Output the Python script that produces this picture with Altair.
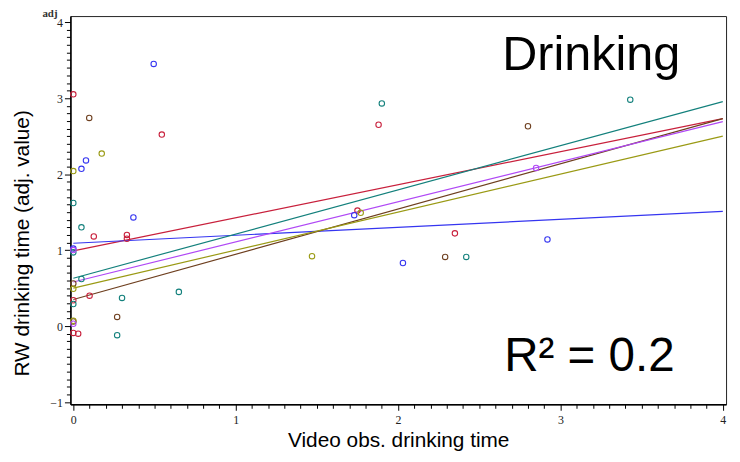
import altair as alt
import pandas as pd

# ---- data ----
groups = ["A", "B", "C", "D", "E", "F"]
colors = ["#c8203c", "#3535f0", "#13807c", "#6e3f1f", "#9a9a14", "#b048f5"]

red_x = [0.0, 0.545, 1.88, 0.126, 0.33, 0.33, 0.0, 0.10, 0.0, 0.03, 1.75, 2.35]
red_y = [3.05, 2.52, 2.65, 1.18, 1.20, 1.15, 0.34, 0.40, -0.09, -0.10, 1.52, 1.22]
blue_x = [0.495, 0.078, 0.05, 0.37, 0.0, 1.73, 2.03, 2.92]
blue_y = [3.45, 2.18, 2.07, 1.43, 1.02, 1.46, 0.83, 1.14]
teal_x = [1.90, 3.43, 0.0, 0.05, 0.0, 0.05, 0.0, 0.30, 0.65, 0.27, 2.42]
teal_y = [2.93, 2.98, 1.62, 1.30, 0.97, 0.62, 0.29, 0.37, 0.45, -0.12, 0.91]
brown_x = [0.098, 2.80, 0.0, 0.27, 0.0, 2.29]
brown_y = [2.74, 2.63, 0.56, 0.12, 0.06, 0.91]
olive_x = [0.175, 0.0, 0.0, 0.0, 1.47, 1.77]
olive_y = [2.27, 2.04, 0.49, 0.07, 0.92, 1.49]
purple_x = [2.85, 0.0, 0.0]
purple_y = [2.08, 1.00, 0.03]

# fitted lines: value at x = 0 and at x = 4
line_x_start = 0.0
line_x_end = 4.0
line_y_start = [0.99, 1.09, 0.63, 0.35, 0.50, 0.58]
line_y_end = [2.73, 1.51, 2.955, 2.73, 2.50, 2.69]

x_ticks = [round(i * 0.1, 1) for i in range(41)]
y_ticks = [round(-1 + i * 0.1, 1) for i in range(51)]

# ---- tables ----
series_x = [red_x, blue_x, teal_x, brown_x, olive_x, purple_x]
series_y = [red_y, blue_y, teal_y, brown_y, olive_y, purple_y]
rows = []
for g, xs, ys in zip(groups, series_x, series_y):
    for xv, yv in zip(xs, ys):
        rows.append({"g": g, "x": xv, "y": yv})
pts = pd.DataFrame(rows)

lrows = []
for g, y0, y1 in zip(groups, line_y_start, line_y_end):
    lrows.append({"g": g, "x": line_x_start, "y": y0})
    lrows.append({"g": g, "x": line_x_end, "y": y1})
lines = pd.DataFrame(lrows)

is_major = "abs(datum.value - round(datum.value)) < 1e-6"

xscale = alt.Scale(domain=[-0.018, 4.02], nice=False, zero=False)
yscale = alt.Scale(domain=[-1.03, 4.08], nice=False, zero=False)
color = alt.Color("g:N", scale=alt.Scale(domain=groups, range=colors), legend=None)

xaxis = alt.Axis(
    values=x_ticks, labelExpr=f"{is_major} ? format(datum.value, 'd') : ''",
    labelOverlap=False, labelFlush=False, labelBound=False,
    tickSize={"condition": {"test": is_major, "value": 6}, "value": 4},
    title="Video obs. drinking time", grid=False,
    labelFont="Liberation Serif", labelFontSize=12, labelColor="#222", labelPadding=4,
    titleFont="Liberation Sans", titleFontSize=21, titleFontWeight="normal", titleColor="black",
    titlePadding=5,
    domainColor="black", domainWidth=1.5, tickColor="black", tickWidth=1,
)
yaxis = alt.Axis(
    values=y_ticks, labelExpr=f"{is_major} ? format(datum.value, 'd') : ''",
    labelOverlap=False, labelFlush=False, labelBound=False,
    tickSize={"condition": {"test": is_major, "value": 6}, "value": 4},
    title="RW drinking time (adj. value)", grid=False,
    labelFont="Liberation Serif", labelFontSize=12, labelColor="#222", labelPadding=2,
    titleFont="Liberation Sans", titleFontSize=21, titleFontWeight="normal", titleColor="black",
    titleX=-42, titleY=229, titleBaseline="alphabetic", titleAngle=270, titleAlign="center",
    domainColor="black", domainWidth=1.5, tickColor="black", tickWidth=1,
)

line_layer = alt.Chart(lines).mark_line(strokeWidth=1.2).encode(
    x=alt.X("x:Q", scale=xscale, axis=xaxis),
    y=alt.Y("y:Q", scale=yscale, axis=yaxis),
    color=color,
    detail="g:N",
)
pt_layer = alt.Chart(pts).mark_point(shape="circle", filled=False, size=30, strokeWidth=1.1, opacity=1).encode(
    x=alt.X("x:Q", scale=xscale, axis=xaxis),
    y=alt.Y("y:Q", scale=yscale, axis=yaxis),
    color=color,
)

ann = pd.DataFrame({"t": ["Drinking"]})
drink = alt.Chart(ann).mark_text(
    text="Drinking", font="Liberation Sans", fontSize=49, align="left", baseline="alphabetic", color="black"
).encode(x=alt.value(436), y=alt.value(54))
r2 = alt.Chart(ann).mark_text(
    text="R\u00b2 = 0.2", font="Liberation Sans", fontSize=48, align="left", baseline="alphabetic", color="black"
).encode(x=alt.value(438), y=alt.value(358))
adj = alt.Chart(ann).mark_text(
    text="adj", font="Liberation Serif", fontSize=11, fontWeight="bold", align="right", baseline="alphabetic", color="#333"
).encode(x=alt.value(-13), y=alt.value(1))

chart = alt.layer(line_layer, pt_layer, drink, r2, adj).properties(
    width=662, height=392,
    autosize=alt.AutoSizeParams(type="none"),
    padding={"left": 63, "top": 6, "right": 6, "bottom": 48},
).configure_view(stroke="#222", strokeWidth=1)

chart.save("out.html", embed_options={"renderer": "svg", "actions": False})
